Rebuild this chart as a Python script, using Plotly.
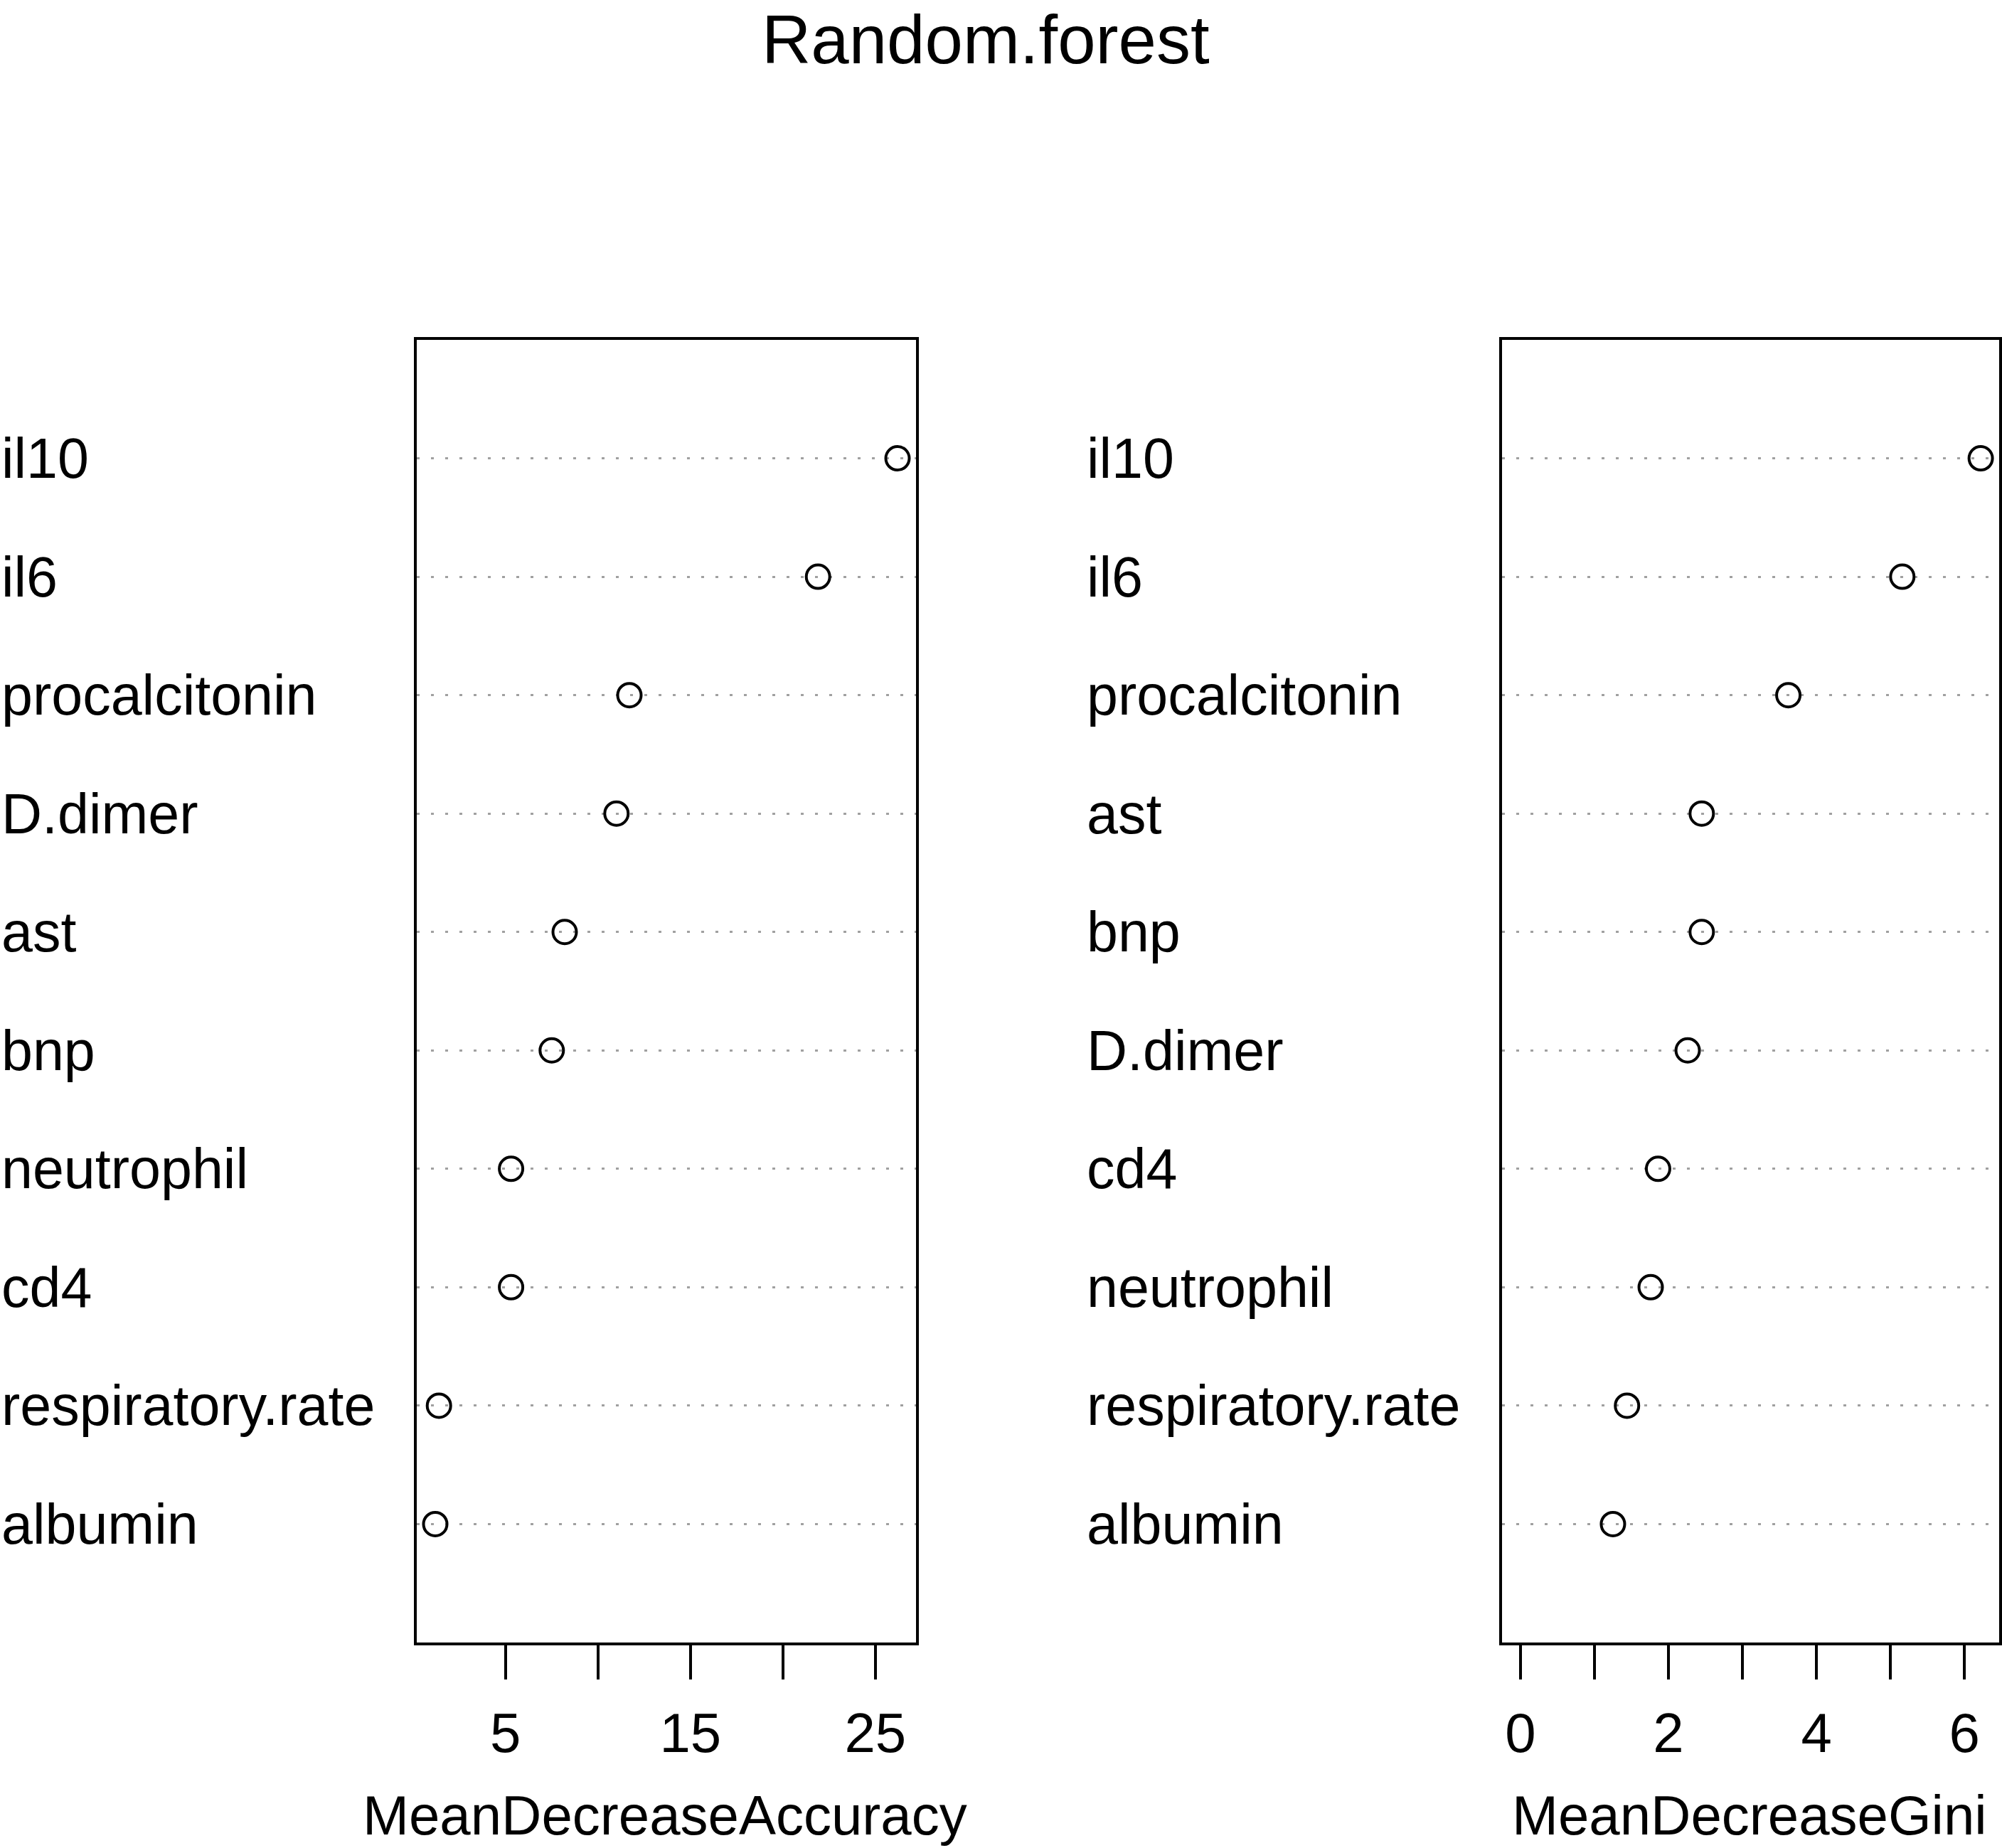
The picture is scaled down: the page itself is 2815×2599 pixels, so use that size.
import plotly.graph_objects as go

# variable importance from the random forest (rows listed top to bottom)
acc_vars = ["il10", "il6", "procalcitonin", "D.dimer", "ast", "bnp",
            "neutrophil", "cd4", "respiratory.rate", "albumin"]
acc_vals = [26.2, 21.9, 11.7, 11.0, 8.2, 7.5, 5.3, 5.3, 1.4, 1.2]

gini_vars = ["il10", "il6", "procalcitonin", "ast", "bnp", "D.dimer",
             "cd4", "neutrophil", "respiratory.rate", "albumin"]
gini_vals = [6.22, 5.16, 3.62, 2.45, 2.45, 2.26, 1.86, 1.76, 1.44, 1.25]

acc_ticks = [5, 10, 15, 20, 25]
acc_ticktext = ["5", "", "15", "", "25"]
gini_ticks = [0, 1, 2, 3, 4, 5, 6]
gini_ticktext = ["0", "", "2", "", "4", "", "6"]

FONT = "Liberation Sans, Arial, sans-serif"
W, H = 2815, 2599


def pad(lo, hi):
    # R's default 4% axis extension
    d = (hi - lo) * 0.04
    return [lo - d, hi + d]


n = len(acc_vars)
rows = list(range(n, 0, -1))  # top row = n

marker = dict(symbol="circle-open", size=33, color="black", line=dict(width=4, color="black"))
fig = go.Figure()
fig.add_trace(go.Scatter(x=acc_vals, y=rows, mode="markers", xaxis="x", yaxis="y",
                         marker=marker, showlegend=False))
fig.add_trace(go.Scatter(x=gini_vals, y=rows, mode="markers", xaxis="x2", yaxis="y2",
                         marker=marker, showlegend=False))

xcommon = dict(showline=True, linecolor="black", linewidth=4, mirror=True,
               ticks="outside", ticklen=48, tickwidth=4, tickcolor="black",
               showgrid=False, zeroline=False,
               tickfont=dict(family=FONT, size=78, color="black"),
               ticklabelstandoff=8)
ycommon = dict(range=[0, n + 1], showline=True, linecolor="black", linewidth=4, mirror=True,
               tickvals=rows, showticklabels=False, ticks="",
               showgrid=True, gridcolor="#a0a0a0", gridwidth=3, griddash="4px,16px",
               zeroline=False)

ydom = [289 / H, 2121 / H]
fig.update_layout(
    width=W, height=H, margin=dict(l=0, r=0, t=0, b=0),
    paper_bgcolor="white", plot_bgcolor="white",
    font=dict(family=FONT, color="black"),
    xaxis=dict(domain=[586 / W, 1288 / W], range=pad(min(acc_vals), max(acc_vals)),
               tickvals=acc_ticks, ticktext=acc_ticktext, anchor="y", **xcommon),
    yaxis=dict(domain=ydom, anchor="x", **ycommon),
    xaxis2=dict(domain=[2112 / W, 2811 / W], range=pad(0, max(gini_vals)),
                tickvals=gini_ticks, ticktext=gini_ticktext, anchor="y2", **xcommon),
    yaxis2=dict(domain=ydom, anchor="x2", **ycommon),
)

# row labels, left aligned like R's dotchart
for v, r in zip(acc_vars, rows):
    fig.add_annotation(text=v, x=0, xref="paper", y=r, yref="y",
                       xanchor="left", yanchor="middle", showarrow=False,
                       font=dict(family=FONT, size=79, color="black"))
for v, r in zip(gini_vars, rows):
    fig.add_annotation(text=v, x=1526 / W, xref="paper", y=r, yref="y2",
                       xanchor="left", yanchor="middle", showarrow=False,
                       font=dict(family=FONT, size=79, color="black"))

# axis titles and main title
fig.add_annotation(text="MeanDecreaseAccuracy", x=935 / W, xref="paper", y=0, yref="paper",
                   xanchor="center", yanchor="bottom", showarrow=False,
                   font=dict(family=FONT, size=78, color="black"))
fig.add_annotation(text="MeanDecreaseGini", x=2460 / W, xref="paper", y=0, yref="paper",
                   xanchor="center", yanchor="bottom", showarrow=False,
                   font=dict(family=FONT, size=78, color="black"))
fig.add_annotation(text="Random.forest", x=1386 / W, xref="paper", y=1, yref="paper",
                   xanchor="center", yanchor="top", showarrow=False,
                   font=dict(family=FONT, size=96, color="black"))

fig.write_html("out.html", config={"displayModeBar": False},
               post_script="document.body.style.margin='0';")
